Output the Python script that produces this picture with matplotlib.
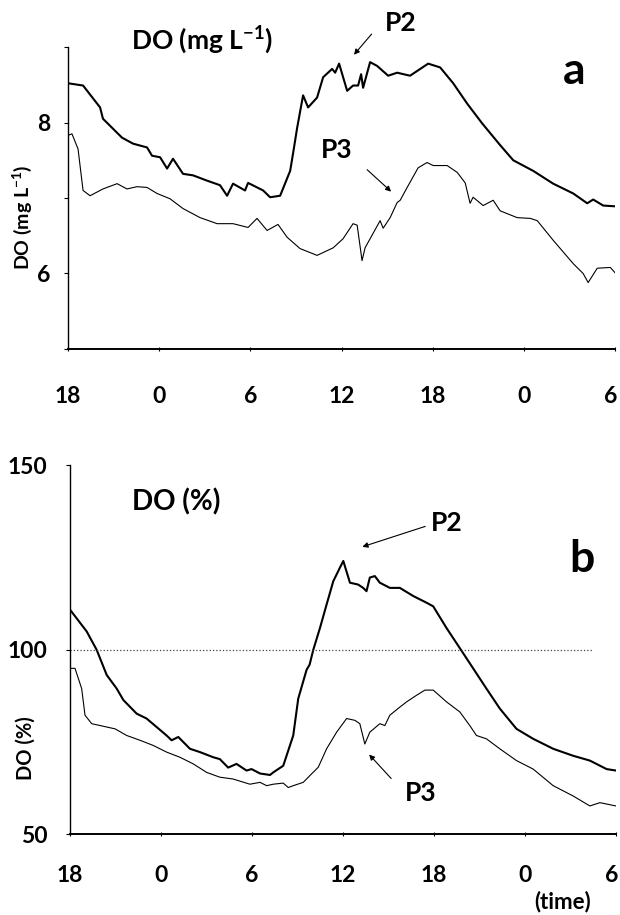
import numpy as np
import matplotlib
matplotlib.use("Agg")
import matplotlib.pyplot as plt

plt.rcParams['font.family'] = ['Lato', 'DejaVu Sans']
plt.rcParams['font.weight'] = 'bold'
plt.rcParams['mathtext.fontset'] = 'custom'
plt.rcParams['mathtext.rm'] = 'Lato:bold'
plt.rcParams['mathtext.bf'] = 'Lato:bold'

# hours since 18:00 on day 1
hour_ticks = [0, 6, 12, 18, 24, 30, 36]
hour_labels = ['18', '0', '6', '12', '18', '0', '6']

# panel a: DO (mg/L), P2 (thick)
p2_mg_t = [0, 0.99, 2.11, 2.3, 3.55, 4.28, 5.2, 5.53, 6.06, 6.52, 6.91, 7.57, 8.23, 9.15,
           10.0, 10.47, 10.86, 11.65, 11.85, 12.84, 13.3, 13.96, 14.62, 14.81, 15.08, 15.47,
           15.8, 16.39, 16.79, 17.38, 17.58, 17.84, 18.37, 18.76, 19.09, 19.29, 19.42, 19.88,
           20.34, 21.07, 21.66, 22.51, 23.7, 24.49, 25.35, 26.27, 27.25, 28.44, 29.3, 30.61,
           31.93, 33.25, 34.17, 34.56, 35.22, 36]
p2_mg = [8.52, 8.49, 8.2, 8.05, 7.8, 7.72, 7.67, 7.56, 7.54, 7.39, 7.52, 7.32, 7.3, 7.23,
         7.17, 7.03, 7.19, 7.1, 7.2, 7.1, 7.01, 7.03, 7.36, 7.59, 7.93, 8.36,
         8.2, 8.33, 8.6, 8.71, 8.66, 8.78, 8.42, 8.49, 8.49, 8.64, 8.46, 8.8,
         8.75, 8.62, 8.66, 8.62, 8.78, 8.73, 8.52, 8.25, 7.99, 7.7, 7.5, 7.36,
         7.19, 7.06, 6.93, 6.98, 6.9, 6.89]

# panel a: DO (mg/L), P3 (thin)
p3_mg_t = [0, 0.26, 0.66, 0.99, 1.45, 2.3, 3.23, 3.88, 4.54, 5.2, 5.86, 6.71, 7.57, 8.69,
           9.81, 10.86, 11.85, 12.44, 13.1, 13.82, 14.42, 15.27, 16.39, 17.45, 18.1, 18.76,
           19.03, 19.35, 19.55, 20.54, 20.74, 21.2, 21.66, 21.86, 22.32, 23.04, 23.63, 24.03,
           24.95, 25.61, 26.14, 26.46, 26.66, 27.32, 27.98, 28.44, 29.56, 30.42, 30.88, 31.93,
           33.25, 33.9, 34.23, 34.83, 35.69, 36]
p3_mg = [7.83, 7.85, 7.65, 7.1, 7.03, 7.12, 7.19, 7.12, 7.15, 7.14, 7.06, 6.99, 6.86, 6.74,
         6.66, 6.66, 6.61, 6.73, 6.57, 6.65, 6.48, 6.33, 6.24, 6.34, 6.46, 6.66,
         6.64, 6.17, 6.34, 6.7, 6.6, 6.74, 6.94, 6.97, 7.14, 7.4, 7.47, 7.43,
         7.43, 7.34, 7.2, 6.93, 7.01, 6.9, 6.97, 6.83, 6.74, 6.73, 6.7, 6.44,
         6.13, 6.0, 5.88, 6.07, 6.08, 6.01]

# panel b: DO (%), P2 (thick)
p2_pct_t = [0, 1.1, 1.76, 2.42, 3.08, 3.52, 4.4, 5.05, 5.71, 6.37, 6.7, 7.14, 7.91, 8.57,
            9.45, 9.88, 10.43, 10.98, 11.64, 11.97, 12.53, 13.19, 13.4, 14.06, 14.72, 15.05,
            15.6, 15.8, 16.04, 16.48, 16.92, 17.36, 17.8, 18.02, 18.46, 19.0, 19.33, 19.55,
            19.77, 20.1, 20.43, 21.09, 21.75, 22.63, 23.5, 23.95, 24.83, 25.7, 26.58, 27.46,
            28.34, 29.44, 30.54, 31.86, 33.18, 34.28, 35.38, 36]
p2_pct = [110.8, 104.9, 99.9, 93.1, 89.4, 86.3, 82.6, 81.3, 79, 76.7, 75.4, 76.3, 73.1, 72.2,
          70.8, 70.3, 68, 69, 67.2, 67.6, 66.4, 66, 66.7, 68.5, 76.7, 86.7,
          94.5, 95.9, 99.9, 105.8, 112.2, 118.5, 122.2, 124, 118.1, 117.6, 116.7, 115.8,
          119.5, 119.9, 118.1, 116.7, 116.7, 114.5, 112.7, 111.7, 105.8, 100.4, 94.9, 89.4,
          84, 78.5, 75.8, 73.1, 71.2, 69.9, 67.6, 67.2]

# panel b: DO (%), P3 (thin)
p3_pct_t = [0, 0.33, 0.77, 0.99, 1.43, 2.42, 2.97, 3.74, 4.62, 5.49, 6.37, 7.25, 8.13, 9.01,
            9.88, 10.76, 11.86, 12.53, 12.97, 13.4, 14.06, 14.39, 14.72, 15.38, 15.93, 16.37,
            16.92, 17.58, 18.24, 18.79, 19.11, 19.44, 19.77, 20.43, 20.76, 21.09, 21.75, 22.19,
            22.85, 23.4, 23.95, 24.83, 25.7, 26.36, 26.8, 27.46, 28.34, 29.44, 30.54, 31.86,
            33.18, 34.28, 34.94, 36]
p3_pct = [94.9, 94.9, 89.4, 82.2, 79.9, 79, 78.5, 76.7, 75.4, 74, 72.2, 70.8, 69, 66.7,
          65.4, 64.9, 63.5, 64, 63.1, 63.5, 63.8, 62.6, 63.1, 64, 66.3, 68.1,
          73.1, 77.6, 81.3, 80.8, 79.9, 74.4, 77.6, 79.9, 79.4, 82.2, 84.4, 85.8,
          87.6, 89, 89, 85.8, 83.1, 79.4, 76.7, 75.8, 73.1, 69.9, 67.6, 63.1,
          60.3, 57.6, 58.5, 57.6]

saturation = 100
saturation_end = 34.5

fig = plt.figure(figsize=(6.2, 9.15), dpi=100)
ax_a = fig.add_axes([0.1097, 0.6186, 0.8823, 0.330])
ax_b = fig.add_axes([0.1129, 0.0885, 0.8806, 0.4033])

for ax, pad in ((ax_a, 25), (ax_b, 21)):
    ax.spines['top'].set_visible(False)
    ax.spines['right'].set_visible(False)
    ax.spines['left'].set_linewidth(1.0)
    ax.spines['bottom'].set_linewidth(1.4)
    ax.set_xlim(0, 36)
    ax.set_xticks(hour_ticks)
    # last label drawn by hand so it stays inside the figure
    ax.set_xticklabels(hour_labels[:-1] + [''], fontsize=16.5, fontweight='bold')
    ax.annotate(hour_labels[-1], xy=(hour_ticks[-1], 0), xycoords=('data', 'axes fraction'),
                xytext=(-3, -pad - 1.5), textcoords='offset points', ha='center', va='top',
                fontsize=16.5, fontweight='bold', annotation_clip=False)
    ax.tick_params(axis='x', direction='inout', length=3, width=0.8, pad=pad)
    ax.tick_params(axis='y', direction='out', length=3, width=0.8)

# panel a
ax_a.plot(p2_mg_t, p2_mg, color='black', lw=1.5)
ax_a.plot(p3_mg_t, p3_mg, color='black', lw=0.8)
ax_a.set_ylim(5, 9)
ax_a.set_yticks([5, 6, 7, 8, 9])
ax_a.set_yticklabels(['', '6', '', '8', ''], fontsize=16.5, fontweight='bold')
ax_a.tick_params(axis='y', pad=10)

fig.text(202 / 620, 1 - 40 / 915, r'DO (mg L$^{\mathbf{-1}}$)', ha='center', va='center',
         fontsize=19, fontweight='bold')
fig.text(22 / 620, 1 - 217 / 915, r'DO (mg L$^{\mathbf{-1}}$)', rotation=90,
         ha='center', va='center', fontsize=14, fontweight='bold')
ax_a.text(0.925, 0.92, 'a', transform=ax_a.transAxes, ha='center', va='center',
          fontsize=32, fontweight='bold')

ax_a.annotate('', xy=(18.7, 8.87), xytext=(20.1, 9.2), annotation_clip=False,
              arrowprops=dict(arrowstyle='-|>', lw=0.8, color='black', mutation_scale=8))
ax_a.text(21.9, 9.32, 'P2', ha='center', va='center', fontsize=19, fontweight='bold',
          clip_on=False)
ax_a.annotate('', xy=(21.4, 7.06), xytext=(19.55, 7.4),
              arrowprops=dict(arrowstyle='-|>', lw=0.8, color='black', mutation_scale=8))
ax_a.text(17.7, 7.63, 'P3', ha='center', va='center', fontsize=19, fontweight='bold')

# panel b
ax_b.plot(p2_pct_t, p2_pct, color='black', lw=1.5)
ax_b.plot(p3_pct_t, p3_pct, color='black', lw=0.8)
ax_b.hlines(saturation, 0, saturation_end, colors='#444444', linestyles=':', lw=0.9)
ax_b.set_ylim(50, 150)
ax_b.set_yticks([50, 100, 150])
ax_b.set_yticklabels(['50', '100', '150'], fontsize=16.5, fontweight='bold')
ax_b.tick_params(axis='y', pad=13)

fig.text(176 / 620, 1 - 502 / 915, 'DO (%)', ha='center', va='center',
         fontsize=20, fontweight='bold')
fig.text(26 / 620, 1 - 748 / 915, 'DO (%)', rotation=90, ha='center', va='center',
         fontsize=14.5, fontweight='bold')
ax_b.text(0.938, 0.745, 'b', transform=ax_b.transAxes, ha='center', va='center',
          fontsize=32, fontweight='bold')
fig.text(563 / 620, 1 - 902 / 915, '(time)', ha='center', va='center',
         fontsize=16, fontweight='bold')

ax_b.annotate('', xy=(19.1, 127.6), xytext=(23.6, 133.6),
              arrowprops=dict(arrowstyle='-|>', lw=0.8, color='black', mutation_scale=8))
ax_b.text(24.85, 134.2, 'P2', ha='center', va='center', fontsize=19, fontweight='bold')
ax_b.annotate('', xy=(19.6, 72.1), xytext=(21.3, 64.5),
              arrowprops=dict(arrowstyle='-|>', lw=0.8, color='black', mutation_scale=8))
ax_b.text(23.1, 61.2, 'P3', ha='center', va='center', fontsize=19, fontweight='bold')

fig.savefig('out.png', dpi=100)
